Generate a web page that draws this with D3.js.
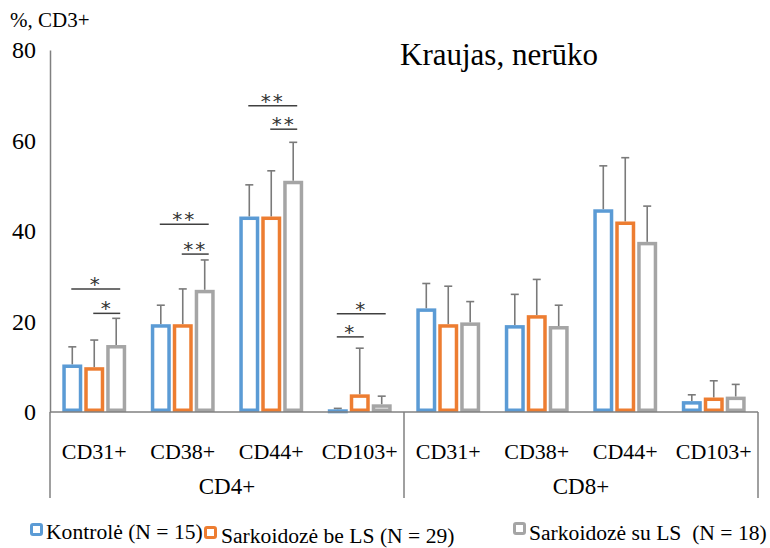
<!DOCTYPE html>
<html>
<head>
<meta charset="utf-8">
<script src="https://cdn.jsdelivr.net/npm/d3@7"></script>
<style>
  html, body { margin: 0; padding: 0; background: #fff; }
  svg, svg text { font-family: "Liberation Serif", "Tinos", "DejaVu Serif", "Times New Roman", serif; }
  svg text.star { font-family: "DejaVu Sans", sans-serif; }
  svg { display: block; }
</style>
</head>
<body>
<svg id="chart" width="770" height="548"></svg>
<script>
// Marker categories within each T-cell subset
const markers = ["CD31+", "CD38+", "CD44+", "CD103+"];
const subsets = ["CD4+", "CD8+"];
const seriesNames = ["Kontrolė (N = 15)", "Sarkoidozė be LS (N = 29)", "Sarkoidozė su LS  (N = 18)"];

// Means (%) per group: CD4+ markers followed by CD8+ markers
const kontrole      = [10.5, 19.4, 43.2, 0.6, 22.9, 19.2, 44.8, 2.4];
const sarkBeLS      = [ 9.9, 19.4, 43.2, 3.9, 19.4, 21.4, 42.1, 3.2];
const sarkSuLS      = [14.8, 27.0, 51.1, 1.7, 19.8, 19.0, 37.6, 3.4];

// Upper end of the error bars (mean + SD)
const kontroleErr   = [14.4, 23.6, 50.2, 0.8, 28.4, 26.0, 54.4, 3.8];
const sarkBeLSErr   = [15.9, 27.2, 53.3, 14.1, 27.8, 29.3, 56.2, 6.9];
const sarkSuLSErr   = [20.7, 33.6, 59.6, 3.5, 24.4, 23.6, 45.5, 6.1];

const yTicks = [0, 20, 40, 60, 80];

// Significance brackets: group index, from series, to series, level (%), label
const bracketGroup = [0, 0, 1, 1, 2, 2, 3, 3];
const bracketFrom  = [0, 1, 0, 1, 0, 1, 0, 0];
const bracketTo    = [2, 2, 2, 2, 2, 2, 2, 1];
const bracketLevel = [27.2, 21.8, 41.5, 34.9, 67.7, 62.5, 21.7, 16.6];
const bracketLabel = ["*", "*", "**", "**", "**", "**", "*", "*"];

const colors = ["#5b9bd5", "#ed7d31", "#a5a5a5"];
const axisColor = "#808080";
const serif = '"Liberation Serif", "Tinos", "DejaVu Serif", "Times New Roman", serif';

const svg = d3.select("#chart").attr("font-family", serif);

const plotLeft = 50, plotRight = 758, plotTop = 50, plotBottom = 412;
const groupKeys = d3.range(subsets.length * markers.length);

const x = d3.scaleBand().domain(groupKeys).range([plotLeft, plotRight]).paddingInner(0).paddingOuter(0);
const xs = d3.scaleBand().domain(d3.range(3)).range([0, x.bandwidth()])
  .paddingInner(0.09).paddingOuter(0.56);
const y = d3.scaleLinear().domain([0, 80]).range([plotBottom, plotTop]);

const values = [kontrole, sarkBeLS, sarkSuLS];
const errs = [kontroleErr, sarkBeLSErr, sarkSuLSErr];

const rows = [];
groupKeys.forEach(g => {
  values.forEach((vals, s) => rows.push({ g, s, v: vals[g], e: errs[s][g] }));
});

const sw = 3.5;
const barX = d => x(d.g) + xs(d.s);

// Error bars (drawn first so the bar outline sits over the stem)
const eb = svg.append("g").attr("stroke", "#7a7a7a").attr("stroke-width", 1.6);
eb.selectAll("line.stem").data(rows).join("line").attr("class", "stem")
  .attr("x1", d => barX(d) + xs.bandwidth() / 2)
  .attr("x2", d => barX(d) + xs.bandwidth() / 2)
  .attr("y1", d => y(d.v)).attr("y2", d => y(d.e));
eb.selectAll("line.cap").data(rows).join("line").attr("class", "cap")
  .attr("x1", d => barX(d) + xs.bandwidth() / 2 - 4)
  .attr("x2", d => barX(d) + xs.bandwidth() / 2 + 4)
  .attr("y1", d => y(d.e)).attr("y2", d => y(d.e));

// Outlined bars
svg.append("g").selectAll("rect").data(rows).join("rect")
  .attr("x", d => barX(d) + sw / 2)
  .attr("y", d => y(d.v) + sw / 2)
  .attr("width", xs.bandwidth() - sw)
  .attr("height", d => Math.max(0.5, y(0) - y(d.v) - sw))
  .attr("fill", "#fff")
  .attr("stroke", d => colors[d.s])
  .attr("stroke-width", sw);

// Axes
const yAxis = d3.axisLeft(y).tickValues(yTicks).tickSize(0).tickPadding(14);
svg.append("g").attr("transform", `translate(${plotLeft},0)`).call(yAxis)
  .attr("font-family", serif).attr("font-size", 24)
  .call(g => g.select(".domain").attr("stroke", axisColor).attr("stroke-width", 1.5))
  .call(g => g.selectAll("text").attr("fill", "#000"));

svg.append("line").attr("x1", plotLeft).attr("x2", plotRight).attr("y1", y(0)).attr("y2", y(0))
  .attr("stroke", axisColor).attr("stroke-width", 1.5);

// Subset dividers reaching down through the category labels
const dividerBottom = 498;
[0, markers.length, markers.length * 2].forEach(i => {
  const xx = i < groupKeys.length ? x(i) : plotRight;
  svg.append("line").attr("x1", xx).attr("x2", xx).attr("y1", y(0)).attr("y2", dividerBottom)
    .attr("stroke", axisColor).attr("stroke-width", 1.5);
});

// Marker labels
svg.append("g").selectAll("text").data(groupKeys).join("text")
  .attr("x", g => x(g) + x.bandwidth() / 2)
  .attr("y", 459)
  .attr("text-anchor", "middle")
  .attr("font-size", 22)
  .text(g => markers[g % markers.length]);

// Subset labels
svg.append("g").selectAll("text").data(subsets).join("text")
  .attr("x", (d, i) => (x(i * markers.length) + (i === subsets.length - 1 ? plotRight : x((i + 1) * markers.length))) / 2)
  .attr("y", 494)
  .attr("text-anchor", "middle")
  .attr("font-size", 23)
  .text(d => d);

// Significance brackets
const br = svg.append("g");
bracketGroup.forEach((g, i) => {
  const x1 = x(g) + xs(bracketFrom[i]) + xs.bandwidth() / 2 - 1;
  const x2 = x(g) + xs(bracketTo[i]) + xs.bandwidth() / 2 + 4;
  const yy = y(bracketLevel[i]);
  br.append("line").attr("x1", x1).attr("x2", x2).attr("y1", yy).attr("y2", yy)
    .attr("stroke", "#404040").attr("stroke-width", 1.5);
  br.append("text").attr("class", "star").attr("x", (x1 + x2) / 2).attr("y", yy + 2)
    .attr("text-anchor", "middle").attr("font-size", 20).attr("fill", "#333")
    .attr("letter-spacing", 2)
    .text(bracketLabel[i]);
});

// Axis unit label and title
svg.append("text").attr("x", 10).attr("y", 27).attr("font-size", 21).text("%, CD3+");
svg.append("text").attr("x", 400).attr("y", 65).attr("font-size", 31).text("Kraujas, nerūko");

// Legend
const legendPos = [
  { mx: 30, my: 523, tx: 46, ty: 539 },
  { mx: 204, my: 526, tx: 221, ty: 543 },
  { mx: 513, my: 522, tx: 529, ty: 540 }
];
const lg = svg.append("g");
seriesNames.forEach((name, i) => {
  const p = legendPos[i];
  lg.append("rect").attr("x", p.mx + 1.5).attr("y", p.my + 1.5).attr("width", 10).attr("height", 10)
    .attr("fill", "#fff").attr("stroke", colors[i]).attr("stroke-width", 3).attr("rx", 1.5);
  lg.append("text").attr("x", p.tx).attr("y", p.ty).attr("font-size", 21.6)
    .style("white-space", "pre").text(name);
});
</script>
</body>
</html>
